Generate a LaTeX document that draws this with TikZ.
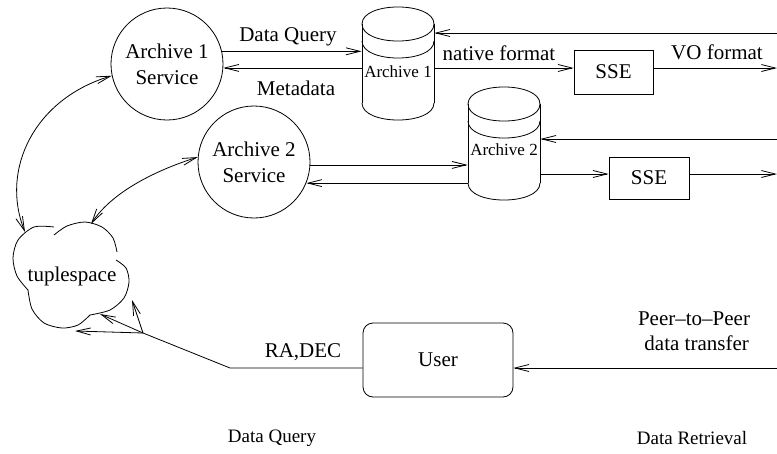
\documentclass[tikz,border=0pt]{standalone}
\usepackage{fontspec}
\setmainfont{Liberation Serif}
\usetikzlibrary{arrows.meta,calc}
\tikzset{
  arr/.style={-{Straight Barb[length=14pt,width=7pt]}},
  darr/.style={{Straight Barb[length=14pt,width=7pt]}-{Straight Barb[length=14pt,width=7pt]}},
  svc/.style={circle,draw,minimum size=112pt,inner sep=0pt,align=center,font=\fontsize{21}{26}\selectfont},
  box/.style={rectangle,draw,inner sep=0pt,font=\fontsize{21}{24}\selectfont},
  lbl/.style={font=\fontsize{21}{25}\selectfont,inner sep=0pt,align=center},
  cyltext/.style={font=\fontsize{17}{20}\selectfont,inner sep=0pt,minimum width=72pt},
  dbcyl/.pic={
    \draw (-36,0) .. controls (-36,-22.7) and (36,-22.7) .. (36,0);
    \draw (-36,0) .. controls (-36,22.7) and (36,22.7) .. (36,0);
    \draw (-36,17) .. controls (-36,39.7) and (36,39.7) .. (36,17);
    \draw (-36,0) -- (-36,79);
    \draw (36,0) -- (36,79);
    \draw (-36,79) .. controls (-36,101.7) and (36,101.7) .. (36,79);
  }
}
\begin{document}
\begin{tikzpicture}[x=1pt,y=-1pt,line width=0.8pt]
\useasboundingbox (0,0) rectangle (777,453);

% services
\node[svc] (a1svc) at (167,64) {Archive 1\\Service};
\node[svc] (a2svc) at (254,162) {Archive 2\\Service};

% archives
\pic at (398,24) {dbcyl};
\node[cyltext] (arch1) at (398,72) {Archive 1};
\pic at (504,104) {dbcyl};
\node[cyltext] (arch2) at (504,150) {Archive 2};

% SSE boxes
\node[box,minimum width=79pt,minimum height=44pt] (sse1) at (613.5,72) {SSE};
\node[box,minimum width=80pt,minimum height=42pt] (sse2) at (649,178) {SSE};

% tuplespace cloud (four puffs)
\draw plot[smooth] coordinates {(54,227) (34,227) (18,240) (13,258) (17,276) (28,290)};
\draw plot[smooth] coordinates {(54,235) (67,226) (85,222) (102,227) (113,238) (117,252)};
\draw plot[smooth] coordinates {(116,260) (126,268) (129,282) (124,298) (110,310) (90,315)};
\draw plot[smooth] coordinates {(90,315) (78,325) (62,328) (44,323) (32,309) (28,290)};
\node[lbl] (ts) at (72,276) {tuplespace};
\coordinate (tsa) at (25,232);
\coordinate (tsb) at (91,224);
\coordinate (t1) at (132,300);
\coordinate (t2) at (100,314);
\coordinate (t3) at (75,331);

% user
\node[box,rounded corners=10pt,minimum width=150pt,minimum height=74pt] (user) at (438,360) {User};

% right edge coordinates
\coordinate (r1) at (777,33);
\coordinate (r2) at (777,68);
\coordinate (r3) at (777,139);
\coordinate (r4) at (777,174);
\coordinate (pe) at (777,368);
\coordinate (ubend) at (230,368);
\coordinate (br) at (143,333);

% archive 1 connectors
\draw[arr] (a1svc.13) -- (a1svc.13 -| arch1.west);
\draw[arr] (a1svc.-4 -| arch1.west) -- (a1svc.-4);
\draw[arr] (r1) -- (r1 -| arch1.east);
\draw[arr] (r2 -| arch1.east) -- (r2 -| sse1.west);
\draw[arr] (r2 -| sse1.east) -- (r2);

% archive 2 connectors
\draw[arr] (a2svc.-3) -- (a2svc.-3 -| arch2.west);
\draw[arr] (a2svc.-22 -| arch2.west) -- (a2svc.-22);
\draw[arr] (r3) -- (r3 -| arch2.east);
\draw[arr] (r4 -| arch2.east) -- (r4 -| sse2.west);
\draw[arr] (r4 -| sse2.east) -- (r4);

% tuplespace links
\draw[darr] (a1svc.192) .. controls +(-77,23) and +(-25,-63) .. (tsa);
\draw[darr] (a2svc.175) .. controls +(-35,11) and +(23,-35) .. (tsb);

% user connectors
\draw[arr] (pe) -- (pe -| user.east);
\draw (pe -| user.west) -- (ubend) -- (br);
\draw[arr] (br) -- (t1);
\draw[arr] (br) -- (t2);
\draw[arr] (br) -- (t3);

% labels
\node[lbl] (lq) at (288,37) {Data Query};
\node[lbl] (lm) at (296,88) {Metadata};
\node[lbl] (ln) at (499,53) {native format};
\node[lbl] (lv) at (717,52) {VO format};
\node[lbl] (lp) at (694,331) {Peer--to--Peer\\\ data transfer};
\node[lbl] (lr) at (303,352) {RA,DEC};
\node[lbl,font=\fontsize{19}{23}\selectfont] (bq) at (272,438) {Data Query};
\node[lbl,font=\fontsize{19}{23}\selectfont] (bd) at (692,438) {Data Retrieval};
\end{tikzpicture}
\end{document}
